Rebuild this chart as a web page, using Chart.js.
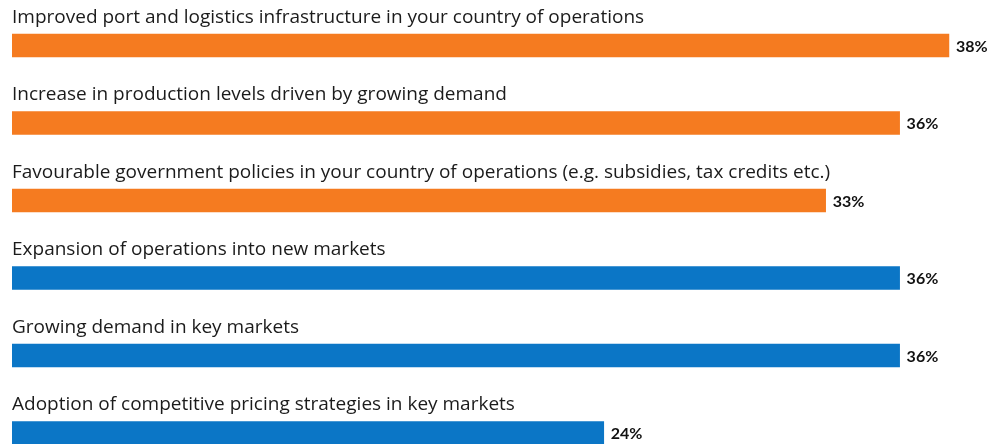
<!DOCTYPE html>
<html>
<head>
<meta charset="utf-8">
<script src="https://cdn.jsdelivr.net/npm/chart.js@4"></script>
<style>
  html, body { margin: 0; padding: 0; background: #fff; overflow: hidden; }
  #wrap { width: 997px; height: 444px; position: relative; }
</style>
</head>
<body>
<div id="wrap"><canvas id="myChart"></canvas></div>
<script>
// survey answers, top to bottom
const categories = [
  'Improved port and logistics infrastructure in your country of operations',
  'Increase in production levels driven by growing demand',
  'Favourable government policies in your country of operations (e.g. subsidies, tax credits etc.)',
  'Expansion of operations into new markets',
  'Growing demand in key markets',
  'Adoption of competitive pricing strategies in key markets'
];
const values = [38, 36, 33, 36, 36, 24];
const groups = ['domestic', 'domestic', 'domestic', 'market', 'market', 'market'];

const groupColors = { domestic: '#F57B20', market: '#0B76C6' };

// text above each bar and the percentage to its right
const barLabels = {
  id: 'barLabels',
  afterDatasetsDraw(chart) {
    const ctx = chart.ctx;
    const meta = chart.getDatasetMeta(0);
    ctx.save();
    meta.data.forEach((bar, i) => {
      const top = bar.y - bar.height / 2;
      ctx.fillStyle = '#1b1b1b';
      ctx.font = '19px "Open Sans"';
      ctx.textAlign = 'left';
      ctx.textBaseline = 'alphabetic';
      ctx.fillText(categories[i], chart.chartArea.left, top - 11);

      ctx.fillStyle = '#111';
      ctx.font = 'bold 16px Lato';
      ctx.textBaseline = 'middle';
      ctx.fillText(values[i] + '%', bar.x + 7, bar.y + 1);
    });
    ctx.restore();
  }
};

const ctx = document.getElementById('myChart').getContext('2d');
new Chart(ctx, {
  type: 'bar',
  data: {
    datasets: [{
      data: values.map((v, i) => ({ x: v, y: i })),
      backgroundColor: groups.map(g => groupColors[g]),
      barThickness: 23,
      borderWidth: 0
    }]
  },
  options: {
    indexAxis: 'y',
    responsive: true,
    maintainAspectRatio: false,
    animation: false,
    layout: { padding: { left: 12, right: 0, top: 0, bottom: 0 } },
    scales: {
      x: { type: 'linear', min: 0, max: 39.95, display: false },
      y: { type: 'linear', reverse: true, offset: false, min: -0.587, max: 5.142, display: false }
    },
    plugins: {
      legend: { display: false },
      tooltip: { enabled: false }
    }
  },
  plugins: [barLabels]
});
</script>
</body>
</html>
